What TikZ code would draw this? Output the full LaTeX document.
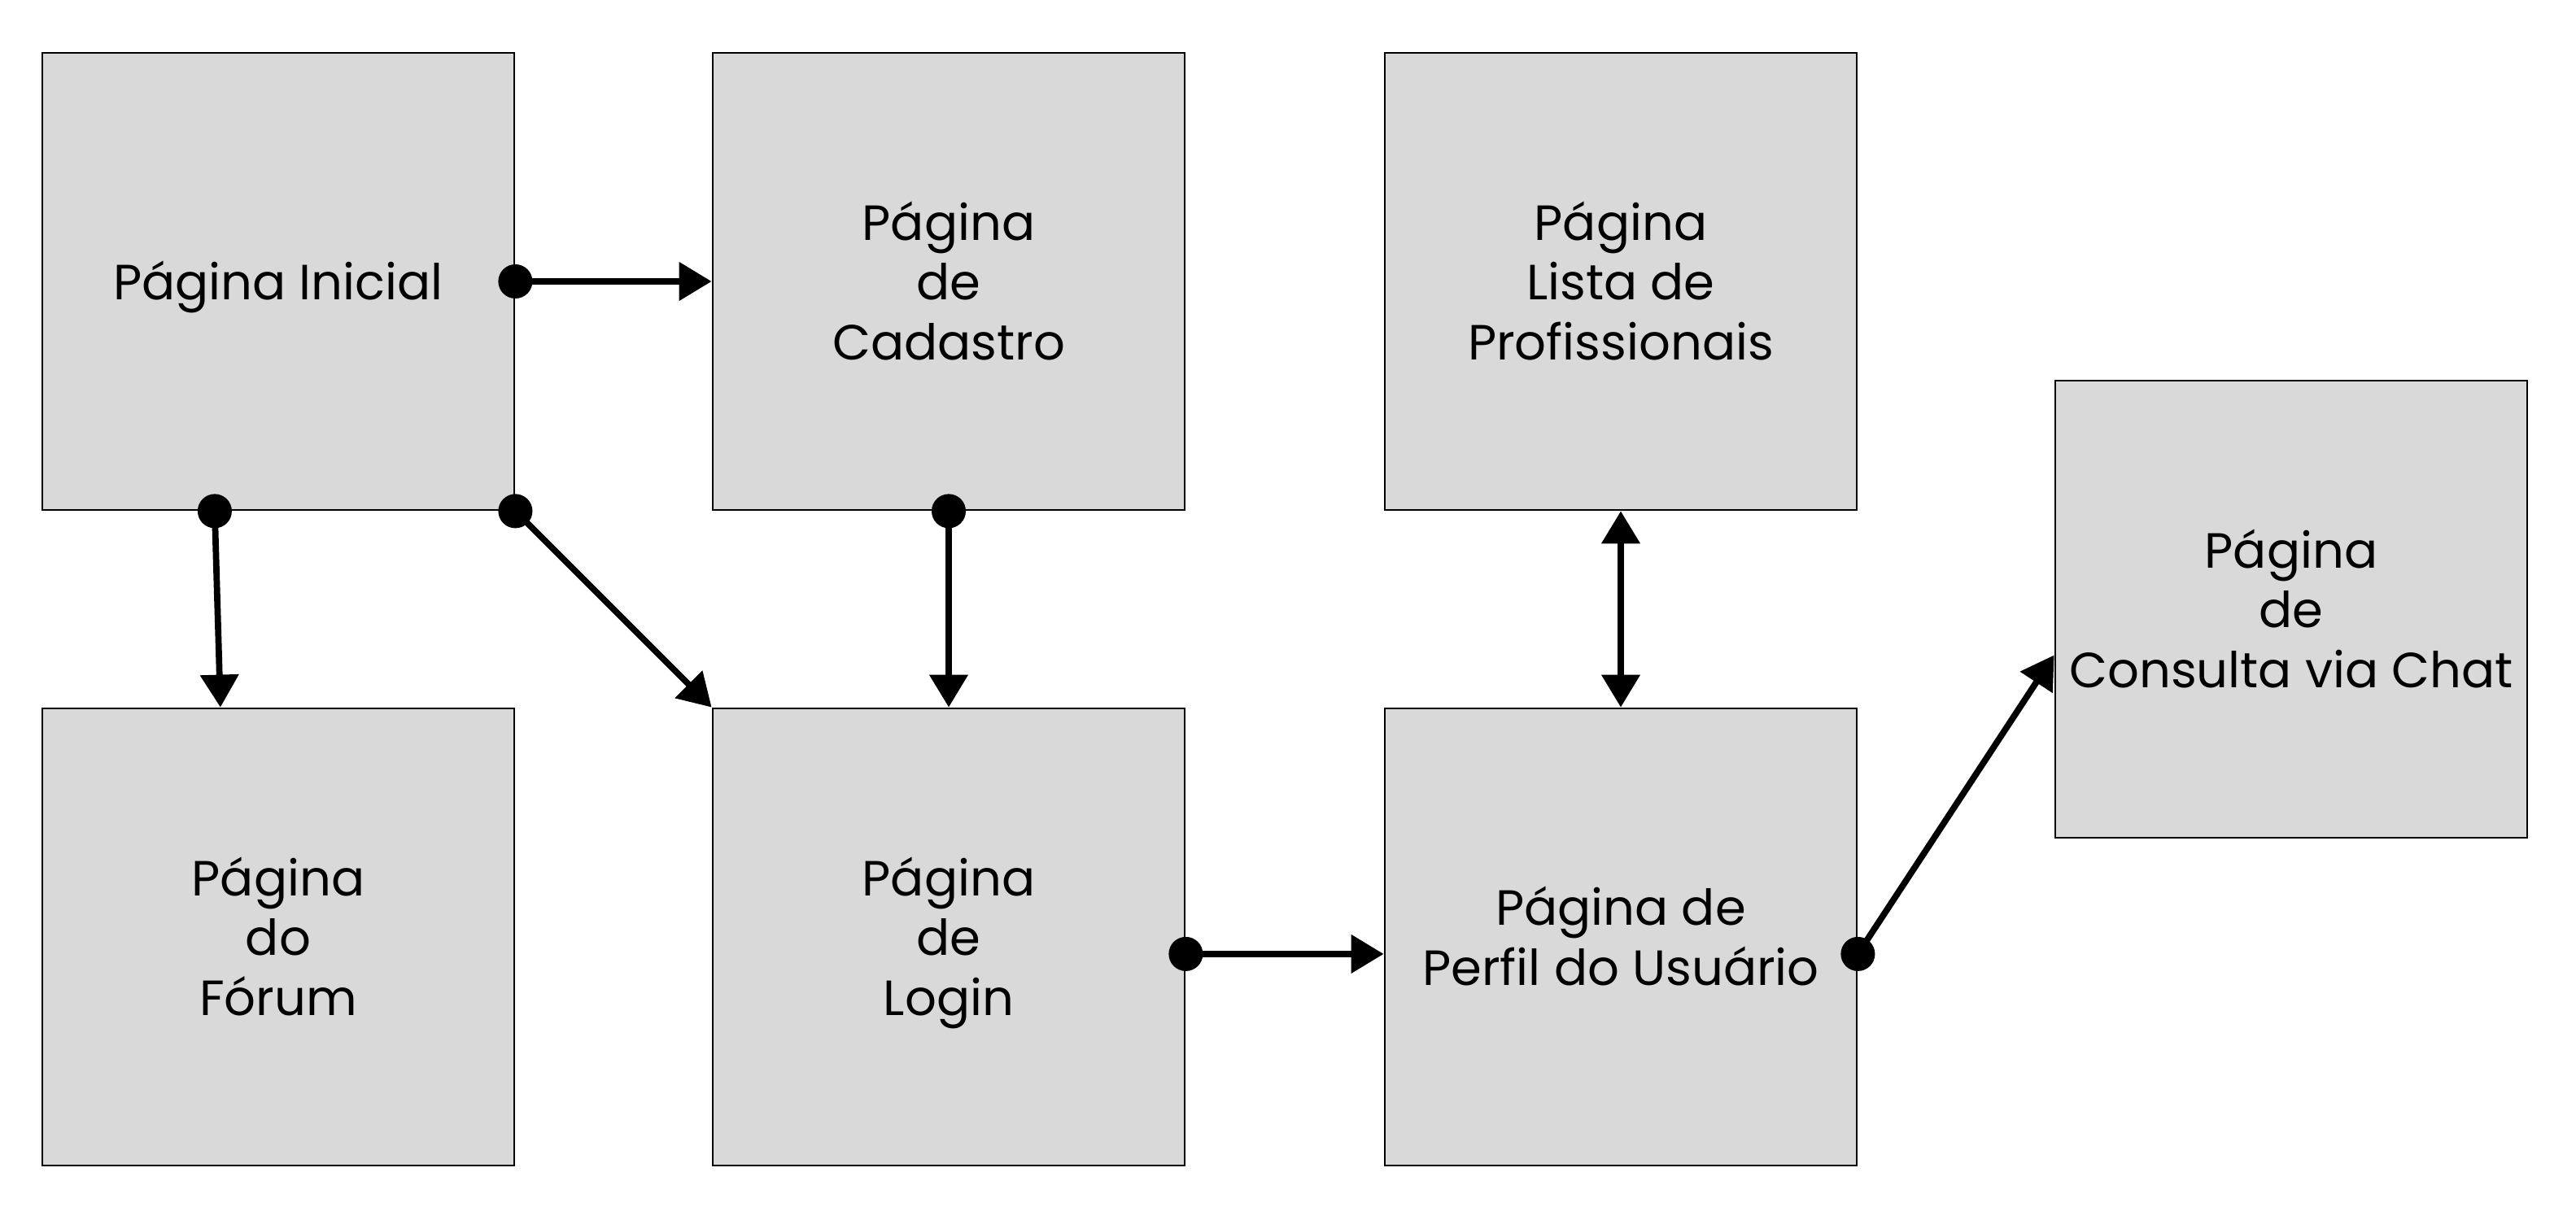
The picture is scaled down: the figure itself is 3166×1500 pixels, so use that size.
\documentclass[tikz,border=0pt]{standalone}
\usepackage{fontspec}
\setmainfont{Poppins}
\usetikzlibrary{arrows.meta,calc}
\definecolor{boxgray}{HTML}{D9D9D9}
\newcommand\ps{\rule[-5pt]{0pt}{21pt}}
\begin{document}
\begin{tikzpicture}[x=0.01cm,y=-0.01cm,
  page/.style={draw=black,line width=0.7pt,fill=boxgray,minimum width=5.8cm,minimum height=5.62cm,inner sep=0pt,label={[pagetext]center:#1}},
  pagetext/.style={align=center,inner sep=0pt,yshift=-1pt,font=\fontsize{17.3}{21}\selectfont},
  conn/.style={line width=2.2pt,-{Triangle[length=4mm,width=4.6mm]}},
  dconn/.style={line width=2.2pt,{Triangle[length=4mm,width=4.6mm]}-{Triangle[length=4mm,width=4.6mm]}},
  dotmark/.style={fill=black}]
\useasboundingbox (0,0) rectangle (3166,1500);
\node[page={\ps Página Inicial}] (ini) at (342,346) {};
\node[page={\ps Página\\\ps de\\\ps Cadastro}] (cad) at (1166,346) {};
\node[page={\ps Página\\\ps Lista de\\\ps Profissionais}] (lis) at (1992,346) {};
\node[page={\ps Página\\\ps do\\\ps Fórum}] (for) at (342,1152) {};
\node[page={\ps Página\\\ps de\\\ps Login}] (log) at (1166,1152) {};
\node[page={\ps Página de\\\ps Perfil do Usuário}] (per) at (1992,1152) {};
\node[page={\ps Página\\\ps de\\\ps Consulta via Chat}] (cha) at (2816,749) {};
\coordinate (a1) at (ini.east);
\coordinate (a2) at ($(ini.south west)!0.366!(ini.south east)$);
\coordinate (b2) at ($(for.north west)!0.378!(for.north east)$);
\coordinate (a6) at ($(log.north east)!0.537!(log.south east)$);
\coordinate (b6) at ($(per.north west)!0.537!(per.south west)$);
\coordinate (a7) at ($(per.north east)!0.537!(per.south east)$);
\coordinate (b7) at ($(cha.north west)!0.6!(cha.south west)$);
\draw[conn] (a1) -- (cad.west);
\draw[conn] (a2) -- (b2);
\draw[conn] (ini.south east) -- (log.north west);
\draw[conn] (cad.south) -- (log.north);
\draw[dconn] (lis.south) -- (per.north);
\draw[conn] (a6) -- (b6);
\draw[conn] (a7) -- (b7);
\fill[dotmark] (a1) circle[radius=0.21cm];
\fill[dotmark] (a2) circle[radius=0.21cm];
\fill[dotmark] (ini.south east) circle[radius=0.21cm];
\fill[dotmark] (cad.south) circle[radius=0.21cm];
\fill[dotmark] (a6) circle[radius=0.21cm];
\fill[dotmark] (a7) circle[radius=0.21cm];
\end{tikzpicture}
\end{document}
